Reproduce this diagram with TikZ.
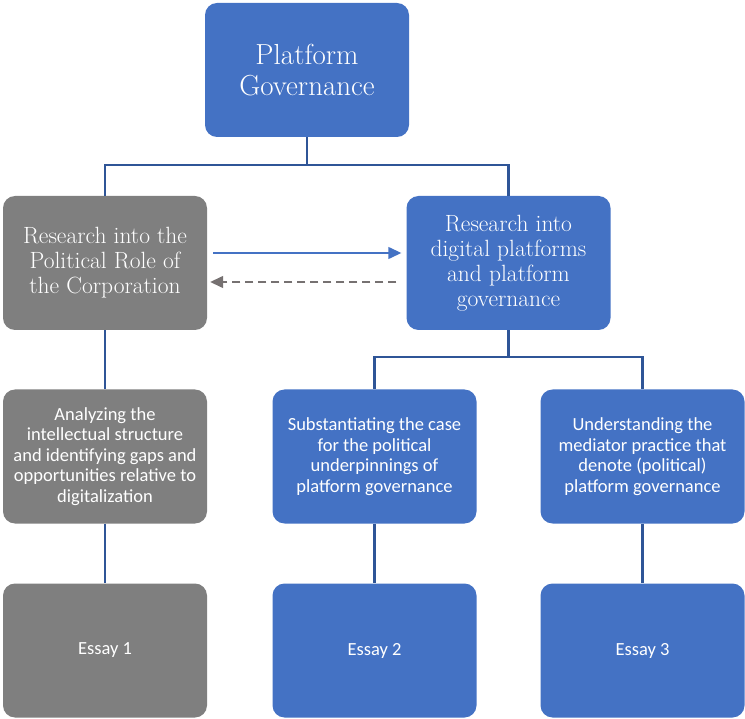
\documentclass[tikz,border=0pt]{standalone}
\usepackage{fontspec}
\newfontfamily\calib{Carlito}
\usetikzlibrary{arrows.meta}
\definecolor{pblue}{HTML}{4472C4}
\definecolor{pgray}{HTML}{7F7F7F}
\definecolor{lblue}{HTML}{2F5597}
\definecolor{dgray}{HTML}{767171}
\tikzset{
  box/.style={rounded corners=12pt, minimum width=204pt, minimum height=134pt, inner sep=0pt, align=center, text=white},
  bluebox/.style={box, fill=pblue},
  graybox/.style={box, fill=pgray},
  conn/.style={draw=lblue, line width=2.4pt},
  serifbig/.style={font=\rmfamily\fontsize{29}{31}\selectfont},
  serifmid/.style={font=\rmfamily\fontsize{23.5}{25}\selectfont},
  sansbox/.style={font=\calib\fontsize{18.5}{20.5}\selectfont},
  solidarr/.style={draw=pblue, line width=1.4pt, -{Triangle[length=13pt,width=12pt]}},
  dasharr/.style={draw=dgray, line width=1.4pt, dash pattern=on 8pt off 5pt, -{Triangle[length=13pt,width=12pt]}}
}
\begin{document}
\begin{tikzpicture}[x=1pt,y=-1pt]
\useasboundingbox (0,0) rectangle (745,719);
\node[bluebox, serifbig] (top) at (307,70) {Platform\\Governance};
\node[graybox, serifmid] (lm) at (105,263) {Research into the\\Political Role of\\the Corporation};
\node[bluebox, serifmid] (rm) at (508.5,263) {Research into\\digital platforms\\and platform\\governance};
\node[graybox, sansbox] (a1) at (105,456.5) {Analyzing the\\intellectual structure\\and identifying gaps and\\opportunities relative to\\digitalization};
\node[bluebox, sansbox] (a2) at (374.5,456.5) {Substantiating the case\\for the political\\underpinnings of\\platform governance};
\node[bluebox, sansbox] (a3) at (642.5,456.5) {Understanding the\\mediator practice that\\denote (political)\\platform governance};
\node[graybox, sansbox] (e1) at (105,650.5) {Essay 1};
\node[bluebox, sansbox] (e2) at (374.5,650.5) {Essay 2};
\node[bluebox, sansbox] (e3) at (642.5,650.5) {Essay 3};
\coordinate (j1) at (307,165);
\coordinate (j2) at (508.5,357);
\draw[conn] (top.south) -- (j1);
\draw[conn] (j1) -| (lm.north);
\draw[conn] (j1) -| (rm.north);
\draw[conn] (rm.south) -- (j2);
\draw[conn] (j2) -| (a2.north);
\draw[conn] (j2) -| (a3.north);
\draw[conn] (lm.south) -- (a1.north);
\draw[conn] (a1.south) -- (e1.north);
\draw[conn] (a2.south) -- (e2.north);
\draw[conn] (a3.south) -- (e3.north);
\draw[solidarr, shorten <=6pt, shorten >=5pt] (lm.east |- 0,253) -- (rm.west |- 0,253);
\draw[dasharr, shorten <=10pt, shorten >=3pt] (rm.west |- 0,282) -- (lm.east |- 0,282);
\end{tikzpicture}
\end{document}
